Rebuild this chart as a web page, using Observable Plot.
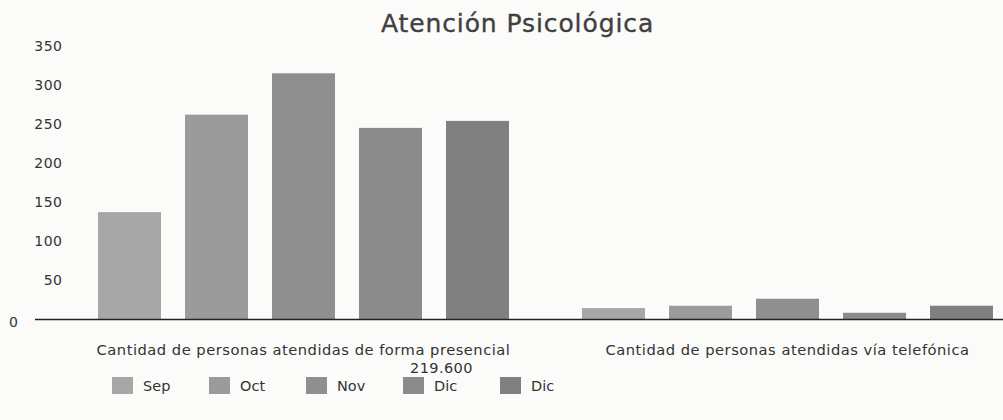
<!DOCTYPE html>
<html>
<head>
<meta charset="utf-8">
<script src="https://cdn.jsdelivr.net/npm/d3@7"></script>
<script src="https://cdn.jsdelivr.net/npm/@observablehq/plot@0.6"></script>
<style>
  html, body { margin: 0; padding: 0; background: #fbfbfa; }
  body { width: 1003px; height: 420px; overflow: hidden; font-family: "DejaVu Sans", sans-serif; color: #3a3a3a; }
  #title { height: 40px; line-height: 48px; text-align: center; padding-left: 32px; font-size: 25px; font-weight: normal; color: #404040; letter-spacing: 0.9px; -webkit-text-stroke: 0.35px #404040; }
  #note { position: absolute; top: 360px; left: 410px; font-size: 14.5px; color: #333; letter-spacing: 0.4px; }
  #legend { position: absolute; top: 377px; left: 112px; display: flex; font-size: 14.5px; color: #333; }
  .item { display: flex; align-items: center; width: 97px; }
  .sw { width: 21px; height: 17px; margin-right: 10px; }
  svg text { letter-spacing: 0.5px; }
</style>
</head>
<body>
<div id="title">Atención Psicológica</div>
<div id="chart"></div>
<div id="note"></div>
<div id="legend"></div>
<script>
// ---- data ----
const categories = [
  "Cantidad de personas atendidas de forma presencial",
  "Cantidad de personas atendidas vía telefónica"
];
const months = ["Sep", "Oct", "Nov", "Dic", "Dic"];
const presencial = [137, 262, 315, 245, 254];
const telefonica = [14, 17, 26, 8, 17];
const yTicks = [50, 100, 150, 200, 250, 300, 350];
const noteText = "219.600";
const colors = ["#a7a7a7", "#9b9b9b", "#8f8f8f", "#8b8b8b", "#808080"];

const rows = [];
months.forEach((m, i) => {
  rows.push({cat: categories[0], idx: i, value: presencial[i]});
  rows.push({cat: categories[1], idx: i, value: telefonica[i]});
});

const chart = Plot.plot({
  width: 1003,
  height: 323,
  marginTop: 6,
  marginBottom: 44,
  marginLeft: 35,
  marginRight: 0,
  style: {background: "transparent", fontFamily: "'DejaVu Sans', sans-serif", fontSize: "14px", color: "#333", overflow: "visible"},
  fx: {domain: categories, padding: 0, label: null},
  x: {domain: d3.range(months.length), insetLeft: 58, insetRight: 5, paddingInner: 0.28, paddingOuter: 0.04, axis: null},
  y: {domain: [0, 350], axis: null},
  color: {type: "ordinal", domain: d3.range(months.length), range: colors},
  marks: [
    Plot.barY(rows, {fx: "cat", x: "idx", y: "value", fill: "idx"}),
    Plot.ruleY([0], {stroke: "#222", strokeWidth: 1.6}),
    Plot.axisY(yTicks, {anchor: "left", label: null, tickSize: 0, tickPadding: 0, dx: 27, tickFormat: d => d, fontSize: 14, fill: "#333"}),
    Plot.axisY([0], {anchor: "left", label: null, tickSize: 0, tickPadding: 0, dx: -17, dy: 3, tickFormat: d => d, fontSize: 14, fill: "#333"}),
    Plot.axisFx({anchor: "bottom", tickSize: 0, tickPadding: 25, dx: 26, label: null, fontSize: 14.7, fill: "#333"})
  ]
});
document.getElementById("chart").appendChild(chart);

document.getElementById("note").textContent = noteText;
const legend = document.getElementById("legend");
months.forEach((m, i) => {
  const it = document.createElement("div");
  it.className = "item";
  const sw = document.createElement("div");
  sw.className = "sw";
  sw.style.background = colors[i];
  const t = document.createElement("span");
  t.textContent = m;
  it.appendChild(sw); it.appendChild(t);
  legend.appendChild(it);
});
</script>
</body>
</html>
